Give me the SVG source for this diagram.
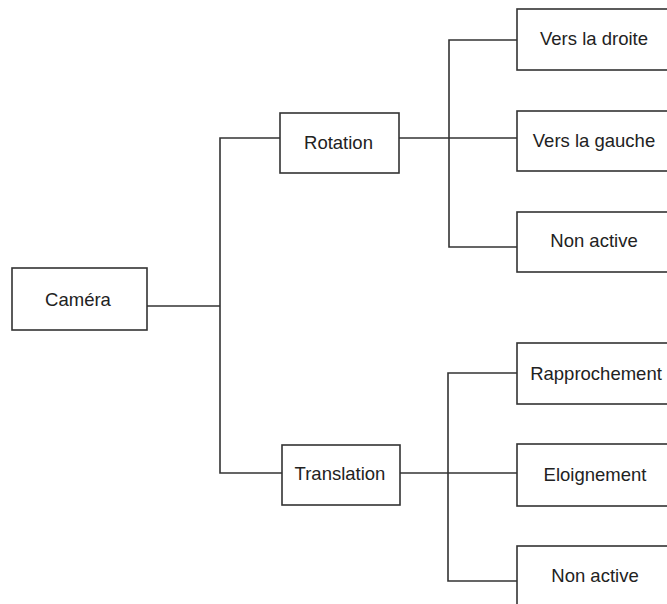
<svg xmlns="http://www.w3.org/2000/svg" width="667" height="604" viewBox="0 0 667 604">
  <style>
    .box { fill: #ffffff; stroke: #333333; stroke-width: 1.6; }
    .wire { fill: none; stroke: #333333; stroke-width: 1.6; }
    .lbl { font-family: "Liberation Sans", Arial, sans-serif; font-size: 18.5px; fill: #222222; text-anchor: middle; }
  </style>
  <rect width="667" height="604" fill="#ffffff"/>

  <g id="connectors">
    <!-- root to main branches -->
    <polyline class="wire" points="147,306 220,306"/>
    <polyline class="wire" points="280,138 220,138 220,473 282,473"/>
    <!-- Rotation branch -->
    <polyline class="wire" points="399,138 517,138"/>
    <polyline class="wire" points="517,40 449,40 449,247 517,247"/>
    <!-- Translation branch -->
    <polyline class="wire" points="400,473 517,473"/>
    <polyline class="wire" points="517,373 448,373 448,581 517,581"/>
  </g>

  <g id="camera">
    <rect class="box" x="12" y="268" width="135" height="62"/>
    <text class="lbl" x="78" y="305.5">Caméra</text>
  </g>

  <g id="rotation">
    <rect class="box" x="280" y="113" width="119" height="60"/>
    <text class="lbl" x="338.5" y="149">Rotation</text>
  </g>

  <g id="translation">
    <rect class="box" x="282" y="445" width="118" height="60"/>
    <text class="lbl" x="340" y="480">Translation</text>
  </g>

  <g id="vers-droite">
    <rect class="box" x="517" y="9" width="155" height="61"/>
    <text class="lbl" x="594" y="45">Vers la droite</text>
  </g>

  <g id="vers-gauche">
    <rect class="box" x="517" y="111" width="155" height="60"/>
    <text class="lbl" x="594" y="147">Vers la gauche</text>
  </g>

  <g id="rotation-non-active">
    <rect class="box" x="517" y="212" width="155" height="60"/>
    <text class="lbl" x="594" y="247">Non active</text>
  </g>

  <g id="rapprochement">
    <rect class="box" x="517" y="343" width="155" height="61"/>
    <text class="lbl" x="596" y="380">Rapprochement</text>
  </g>

  <g id="eloignement">
    <rect class="box" x="517" y="444" width="155" height="62"/>
    <text class="lbl" x="595" y="481">Eloignement</text>
  </g>

  <g id="translation-non-active">
    <rect class="box" x="517" y="546" width="155" height="62"/>
    <text class="lbl" x="595" y="582">Non active</text>
  </g>
</svg>
